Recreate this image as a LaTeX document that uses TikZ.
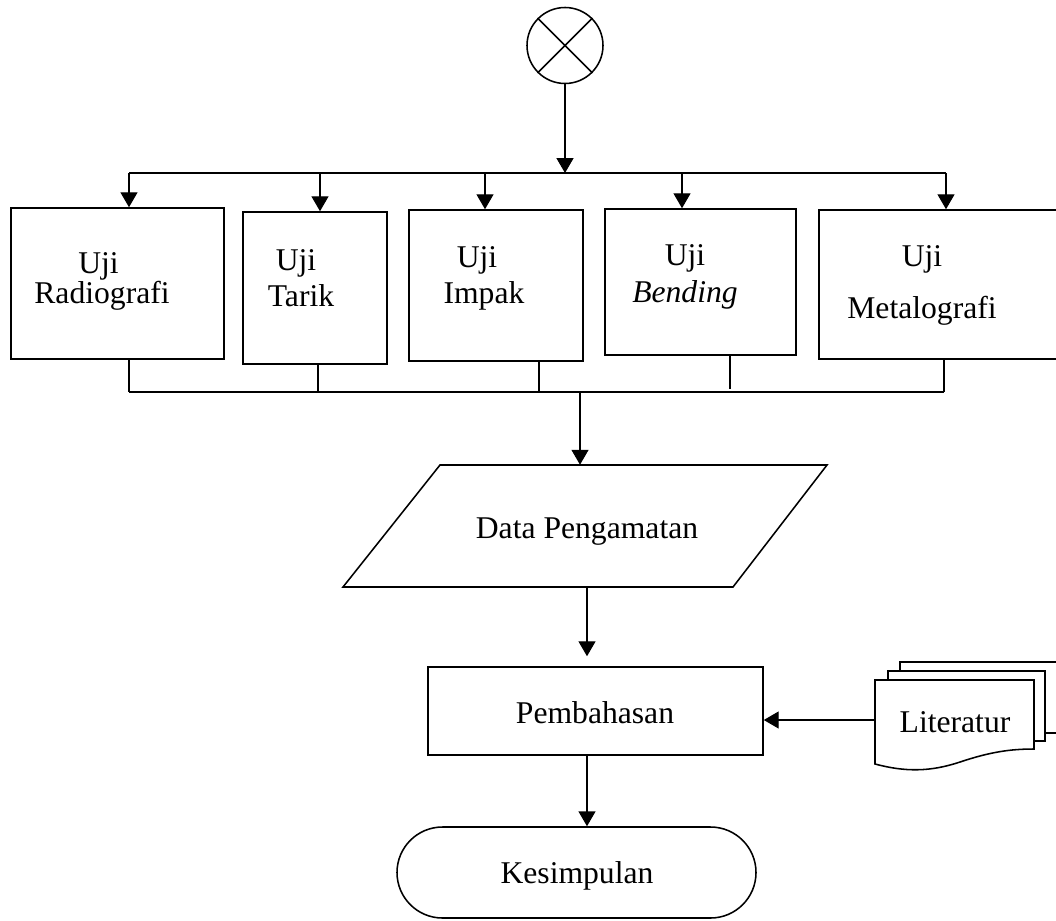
\documentclass[tikz,border=0pt]{standalone}
\usepackage{fontspec}
\setmainfont{Liberation Serif}
\usetikzlibrary{arrows.meta,shapes.misc}
\def\px{0.025cm}
\begin{document}
\begin{tikzpicture}[x=0.025cm,y=-0.025cm,
  box/.style={draw,line width=1.1pt,rectangle,inner sep=0pt},
  conn/.style={line width=0.75pt},
  arr/.style={conn,-{Triangle[width=12pt,length=10.5pt]}},
  txt/.style={anchor=base,inner sep=0pt,font=\fontsize{22.5}{27}\selectfont},
  page/.style={draw,fill=white,line width=1.1pt},
]
\useasboundingbox (0,0) rectangle (1056,920);
\clip (0,0) rectangle (1056,920);

% start connector
\node[draw,circle,line width=1.1pt,minimum size=76*\px,inner sep=0pt] (start) at (565,45.5) {};
\draw[line width=1.1pt] (start.north west) -- (start.south east) (start.north east) -- (start.south west);

% test boxes
\node[box,minimum width=213*\px,minimum height=151*\px] (rad) at (117.5,283.5) {};
\node[box,minimum width=144*\px,minimum height=152*\px] (tar) at (315,288) {};
\node[box,minimum width=174*\px,minimum height=151*\px] (imp) at (496,285.5) {};
\node[box,minimum width=191*\px,minimum height=146*\px] (ben) at (700.5,282) {};
\node[box,minimum width=245*\px,minimum height=149*\px] (met) at (941.5,284.5) {};

\node[txt] (rad1) at (98.5,273) {Uji};
\node[txt] (rad2) at (102,303) {Radiografi};
\node[txt] (tar1) at (296,270) {Uji};
\node[txt] (tar2) at (301,306) {Tarik};
\node[txt] (imp1) at (477,267) {Uji};
\node[txt] (imp2) at (484,303) {Impak};
\node[txt] (ben1) at (685,265) {Uji};
\node[txt] (ben2) at (685,302) {\itshape Bending};
\node[txt] (met1) at (922,266) {Uji};
\node[txt] (met2) at (922,318) {Metalografi};

% top distribution
\coordinate (top) at (565,173);
\coordinate (tl) at (129,173);
\coordinate (tr) at (946,173);
\draw[arr] (start.south) -- (top);
\draw[conn] (tl) -- (tr);
\foreach \x/\n in {129/rad,320/tar,485/imp,682/ben,946/met}
  \draw[arr] (\x,173) -- (\x,173 |- \n.north);

% bottom collection
\coordinate (bl) at (129,392);
\coordinate (br) at (944,392);
\draw[conn] (bl) -- (br);
\foreach \x/\n in {129/rad,318/tar,539/imp,944/met}
  \draw[conn] (\x,392 |- \n.south) -- (\x,392);
\coordinate (benend) at (730,389);
\draw[conn] (benend |- ben.south) -- (benend);

% data
\node[inner sep=0pt,minimum width=390*\px,minimum height=122*\px] (data) at (586,526) {};
\draw[line width=1.1pt] (440,465) -- (827,465) -- (733,587) -- (343,587) -- cycle;
\node[txt] (datat) at (587,538) {Data Pengamatan};
\coordinate (din) at (580,392);
\draw[arr] (din) -- (din |- data.north);

% pembahasan
\node[box,minimum width=335*\px,minimum height=88*\px] (pemb) at (595.5,711) {};
\node[txt] (pembt) at (595,723) {Pembahasan};
\coordinate (pin) at (587,600);
\draw[arr,shorten >=0.25cm] (pin |- data.south) -- (pin |- pemb.north);

% kesimpulan
\node[draw,line width=1.1pt,rounded rectangle,minimum width=359*\px,minimum height=91*\px,inner sep=0pt] (kes) at (576.5,872.5) {};
\node[txt] (kest) at (577,883) {Kesimpulan};
\draw[arr] (pin |- pemb.south) -- (pin |- kes.north);

% literatur (multi-document)
\draw[page] (900,662) rectangle (1062,733);
\draw[page] (888,671) rectangle (1045,741);
\draw[page] (875,680) -- (1034,680) -- (1034,749)
  .. controls (1010,749) and (990,752) .. (960,762)
  .. controls (930,772) and (905,772) .. (875,764) -- cycle;
\node[inner sep=0pt,minimum width=159*\px,minimum height=80*\px] (lit) at (954.5,720) {};
\node[txt] (litt) at (955,732) {Literatur};
\draw[arr] (lit.west) -- (lit.west -| pemb.east);
\end{tikzpicture}
\end{document}
